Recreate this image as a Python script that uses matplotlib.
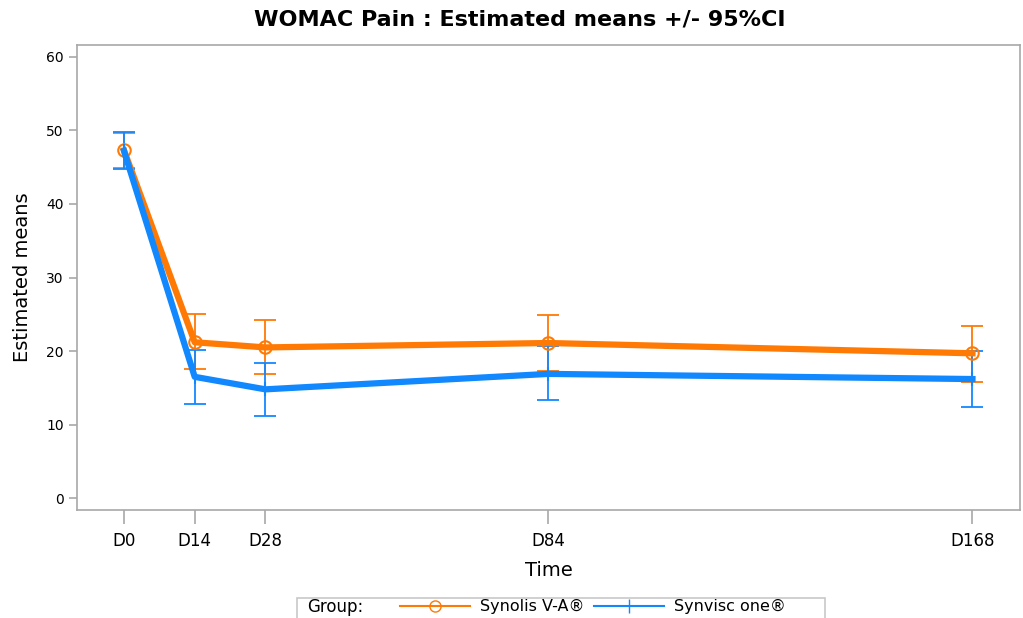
import matplotlib.pyplot as plt
from matplotlib.lines import Line2D
from matplotlib.patches import Rectangle

days = [0, 14, 28, 84, 168]
tick_labels = ["D0", "D14", "D28", "D84", "D168"]

synolis_mean = [47.3, 21.2, 20.5, 21.1, 19.7]
synolis_lo = [44.9, 17.5, 16.9, 17.3, 15.8]
synolis_hi = [49.7, 25.0, 24.2, 24.9, 23.4]

synvisc_mean = [47.2, 16.5, 14.8, 16.9, 16.2]
synvisc_lo = [44.8, 12.8, 11.2, 13.3, 12.4]
synvisc_hi = [49.8, 20.1, 18.4, 20.7, 20.0]

orange = "#FF7A05"
blue = "#1288FF"
grey = "#A8A8A8"

fig = plt.figure(figsize=(10.23, 6.18), dpi=100)
ax = fig.add_axes([0.0753, 0.1748, 0.9217, 0.7522])


def err(mean, lo, hi):
    return [[m - l for m, l in zip(mean, lo)], [h - m for m, h in zip(mean, hi)]]


ax.errorbar(days, synolis_mean, yerr=err(synolis_mean, synolis_lo, synolis_hi),
            fmt="none", ecolor=orange, elinewidth=1.3, capsize=8, capthick=1.3, zorder=2)
ax.errorbar(days, synvisc_mean, yerr=err(synvisc_mean, synvisc_lo, synvisc_hi),
            fmt="none", ecolor=blue, elinewidth=1.3, capsize=8, capthick=1.3, zorder=2)
ax.plot(days, synolis_mean, color=orange, lw=4.5, marker="o", ms=9,
        mfc="none", mec=orange, mew=1.5, zorder=3)
ax.plot(days, synvisc_mean, color=blue, lw=4.5, marker="|", ms=10,
        mec=blue, mew=1.5, zorder=4)

ax.set_xlim(-9.3, 177.4)
ax.set_ylim(-1.6, 61.6)
ax.set_xticks(days)
ax.set_xticklabels(tick_labels, fontsize=12)
ax.set_yticks([0, 10, 20, 30, 40, 50, 60])
ax.tick_params(axis="y", labelsize=10, length=6, color=grey, width=1.2)
ax.tick_params(axis="x", length=10, color=grey, width=1.2, pad=6)
for s in ax.spines.values():
    s.set_color(grey)
    s.set_linewidth(1.2)

ax.set_xlabel("Time", fontsize=14, labelpad=8)
ax.set_ylabel("Estimated means", fontsize=14, labelpad=10)
fig.suptitle("WOMAC Pain : Estimated means +/- 95%CI", fontsize=16,
             fontweight="bold", x=0.508, y=0.985)

# legend strip at the bottom
fig.patches.append(Rectangle((297 / 1023, -0.02), (825 - 297) / 1023, 0.053,
                             transform=fig.transFigure, fill=False,
                             edgecolor="#C8C8C8", lw=1.2))
fig.text(307 / 1023, 0.018, "Group:", fontsize=12, va="center")
handles = [Line2D([], [], color=orange, lw=1.5, marker="o", mfc="none", ms=8),
           Line2D([], [], color=blue, lw=1.5, marker="|", ms=10)]
fig.legend(handles, ["Synolis V-A\u00ae", "Synvisc one\u00ae"], ncol=2,
           loc="center left", bbox_to_anchor=(400 / 1023, 0.018), frameon=False,
           fontsize=11.5, handlelength=4.4, handletextpad=0.6, columnspacing=0.6,
           borderaxespad=0, borderpad=0)

fig.savefig("out.png", dpi=100)
